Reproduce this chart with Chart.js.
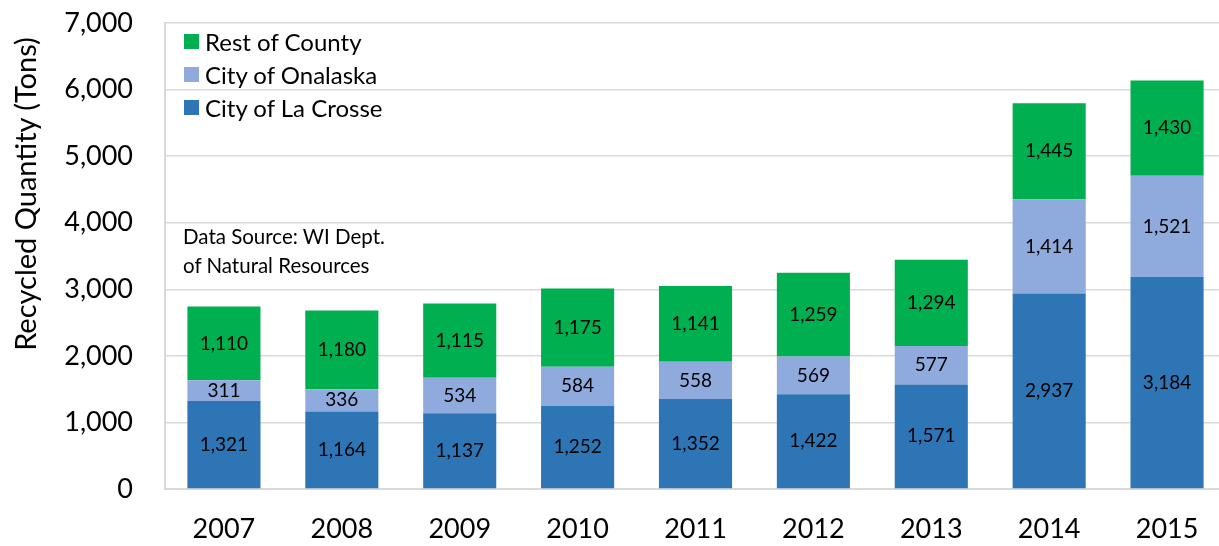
<!DOCTYPE html>
<html>
<head>
<meta charset="utf-8">
<script src="https://cdn.jsdelivr.net/npm/chart.js@4"></script>
<style>
  html, body { margin: 0; padding: 0; background: #fff; overflow: hidden; }
  #wrap { position: relative; width: 1226px; height: 546px; }
  #legend { position: absolute; left: 184px; top: 25px; font-family: Lato, sans-serif; font-size: 24px; color: #000; }
  #legend div { display: flex; align-items: center; height: 33px; }
  #legend span.box { display: inline-block; width: 15px; height: 15px; margin-right: 6px; }
  #note { position: absolute; left: 183px; top: 222px; font-family: Lato, sans-serif; font-size: 20.5px; line-height: 29px; color: #000; }
  #ytitle { position: absolute; left: -175px; top: 176px; width: 400px; height: 36px; line-height: 36px;
            text-align: center; font-family: Lato, sans-serif; font-size: 29px; color: #000; transform: rotate(-90deg); }
</style>
</head>
<body>
<div id="wrap">
  <canvas id="chart" width="1226" height="546"></canvas>
  <div id="ytitle">Recycled Quantity (Tons)</div>
  <div id="legend"></div>
  <div id="note">Data Source: WI Dept.<br>of Natural Resources</div>
</div>
<script>
const years = ["2007", "2008", "2009", "2010", "2011", "2012", "2013", "2014", "2015"];
const laCrosse = [1321, 1164, 1137, 1252, 1352, 1422, 1571, 2937, 3184];
const onalaska = [311, 336, 534, 584, 558, 569, 577, 1414, 1521];
const restOfCounty = [1110, 1180, 1115, 1175, 1141, 1259, 1294, 1445, 1430];
const seriesNames = ["City of La Crosse", "City of Onalaska", "Rest of County"];
const seriesColors = ["#2E75B6", "#8FAADC", "#00B050"];

const fontFamily = "Lato, sans-serif";

// draws the value in the middle of each segment
const segmentLabels = {
    id: "segmentLabels",
    afterDatasetsDraw(chart) {
        const ctx = chart.ctx;
        ctx.save();
        ctx.font = "19px " + fontFamily;
        ctx.fillStyle = "#000";
        ctx.textAlign = "center";
        ctx.textBaseline = "middle";
        chart.data.datasets.forEach((ds, i) => {
            chart.getDatasetMeta(i).data.forEach((bar, j) => {
                const mid = (bar.y + bar.base) / 2;
                ctx.fillText(ds.data[j].toLocaleString("en-US"), bar.x, mid);
            });
        });
        ctx.restore();
    }
};

const ctx = document.getElementById("chart").getContext("2d");
const chart = new Chart(ctx, {
    type: "bar",
    data: {
        labels: years,
        datasets: [laCrosse, onalaska, restOfCounty].map((d, i) => ({
            label: seriesNames[i],
            data: d,
            backgroundColor: seriesColors[i],
            borderWidth: 0,
            barPercentage: 0.62,
            categoryPercentage: 1
        }))
    },
    options: {
        responsive: false,
        animation: false,
        layout: { padding: { top: 23, left: 0, right: 0, bottom: 0 }, autoPadding: false },
        plugins: {
            legend: { display: false },
            tooltip: { enabled: false }
        },
        scales: {
            x: {
                stacked: true,
                grid: { display: false, drawTicks: false },
                border: { color: "#d9d9d9", width: 2 },
                ticks: { color: "#000", padding: 24, font: { family: fontFamily, size: 27 } },
                afterFit: s => { s.height = 57; }
            },
            y: {
                stacked: true,
                min: 0,
                max: 7000,
                ticks: {
                    stepSize: 1000,
                    color: "#000",
                    padding: 32,
                    font: { family: fontFamily, size: 27 },
                    callback: v => v.toLocaleString("en-US")
                },
                grid: { color: "#d9d9d9", lineWidth: 1.5, drawTicks: false },
                border: { color: "#d9d9d9", width: 2 },
                // the title sits higher than centre in the original, so it is an html label (#ytitle)
                afterFit: s => { s.width = 165; s.paddingTop = 0; s.paddingBottom = 0; }
            }
        }
    },
    plugins: [segmentLabels]
});

// legend in reverse order, like the stacked bars
const legend = document.getElementById("legend");
[2, 1, 0].forEach(i => {
    const row = document.createElement("div");
    row.innerHTML = `<span class="box" style="background:${seriesColors[i]}"></span>${seriesNames[i]}`;
    legend.appendChild(row);
});
</script>
</body>
</html>
